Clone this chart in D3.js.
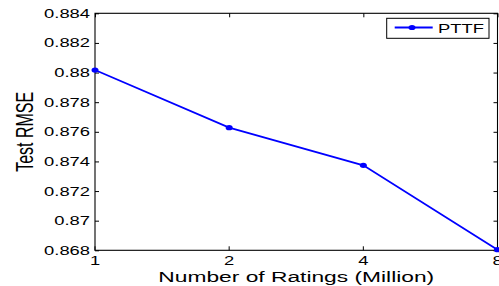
<!DOCTYPE html>
<html>
<head>
<meta charset="utf-8">
<script src="https://cdn.jsdelivr.net/npm/d3@7"></script>
<style>
  body { margin: 0; background: #fff; }
  svg { display: block; }
  text { font-family: "Liberation Sans", Arial, Helvetica, sans-serif; fill: #000; }
</style>
</head>
<body>
<svg id="chart"></svg>
<script>
// chart data
var ratings = [1, 2, 4, 8];                       // million ratings
var rmse = [0.88017, 0.87628, 0.87374, 0.86804];  // PTTF test RMSE
var xTicks = [1, 2, 4, 8];
var yTicks = [0.868, 0.87, 0.872, 0.874, 0.876, 0.878, 0.88, 0.882, 0.884];
var seriesName = "PTTF";

var width = 499, height = 286;
var plotLeft = 95, plotRight = 497.5, plotTop = 13.3, plotBottom = 250.3;
var stretch = 1.47; // the picture is wider than the text it holds

var svg = d3.select("#chart").attr("width", width).attr("height", height);

var x = d3.scaleLog().base(2).domain([1, 8]).range([plotLeft, plotRight]);
var y = d3.scaleLinear().domain([0.868, 0.884]).range([plotBottom, plotTop]);

var fmt = function(d) { return String(+d.toFixed(3)); };

// left axis with labels
var gl = svg.append("g").attr("transform", "translate(" + plotLeft + ",0)")
  .call(d3.axisLeft(y).tickValues(yTicks).tickFormat(fmt).tickSize(-4).tickPadding(5));
gl.selectAll("text").attr("x", -5 / stretch).attr("transform", "scale(" + stretch + ",1)")
  .style("font-size", "12.5px");

// bottom axis with labels
var gb = svg.append("g").attr("transform", "translate(0," + plotBottom + ")")
  .call(d3.axisBottom(x).tickValues(xTicks).tickFormat(d3.format("d")).tickSize(-4).tickPadding(6));
// scaling the label would also move it, so put each label back over its tick
gb.selectAll(".tick").each(function(d) {
  var t = d3.select(this);
  t.attr("transform", null);
  t.select("line").attr("transform", "translate(" + x(d) + ",0)");
  t.select("text").attr("x", x(d) / stretch).attr("transform", "scale(" + stretch + ",1)")
    .style("font-size", "12.5px");
});

// mirrored ticks on top and right
svg.append("g").attr("transform", "translate(0," + plotTop + ")")
  .call(d3.axisTop(x).tickValues(xTicks).tickFormat("").tickSize(-4));
svg.append("g").attr("transform", "translate(" + plotRight + ",0)")
  .call(d3.axisRight(y).tickValues(yTicks).tickFormat("").tickSize(-4));

svg.selectAll(".domain").remove();
svg.selectAll(".tick line").attr("stroke", "#000").attr("stroke-width", 1);

// plot frame
svg.append("rect")
  .attr("x", plotLeft).attr("y", plotTop)
  .attr("width", plotRight - plotLeft).attr("height", plotBottom - plotTop)
  .attr("fill", "none").attr("stroke", "#000").attr("stroke-width", 1.1);

// data line
var pts = ratings.map(function(r, i) { return [r, rmse[i]]; });
svg.append("path")
  .datum(pts)
  .attr("fill", "none")
  .attr("stroke", "#0000ff")
  .attr("stroke-width", 1.8)
  .attr("d", d3.line().x(function(d) { return x(d[0]); }).y(function(d) { return y(d[1]); }));

svg.selectAll("ellipse.pt")
  .data(pts)
  .enter().append("ellipse")
  .attr("class", "pt")
  .attr("cx", function(d) { return x(d[0]); })
  .attr("cy", function(d) { return y(d[1]); })
  .attr("rx", 3.5).attr("ry", 2.6)
  .attr("fill", "#0000ff");

// axis titles
svg.append("text")
  .attr("transform", "translate(" + ((plotLeft + plotRight) / 2) + ",282) scale(" + stretch + ",1)")
  .attr("text-anchor", "middle")
  .style("font-size", "15.5px")
  .text("Number of Ratings (Million)");

svg.append("text")
  .attr("transform", "translate(33," + ((plotTop + plotBottom) / 2) + ") rotate(-90) scale(1," + stretch + ")")
  .attr("text-anchor", "middle")
  .style("font-size", "16px")
  .text("Test RMSE");

// legend
var lg = svg.append("g");
lg.append("rect")
  .attr("x", 386.7).attr("y", 18.3).attr("width", 102.3).attr("height", 20)
  .attr("fill", "#fff").attr("stroke", "#000").attr("stroke-width", 1);
lg.append("line")
  .attr("x1", 394.7).attr("x2", 432.7).attr("y1", 27.5).attr("y2", 27.5)
  .attr("stroke", "#0000ff").attr("stroke-width", 1.8);
lg.append("ellipse")
  .attr("cx", 412).attr("cy", 27.5).attr("rx", 3.5).attr("ry", 2.6)
  .attr("fill", "#0000ff");
lg.append("text")
  .attr("transform", "translate(438,32.7) scale(" + stretch + ",1)")
  .style("font-size", "12.5px")
  .text(seriesName);
</script>
</body>
</html>
